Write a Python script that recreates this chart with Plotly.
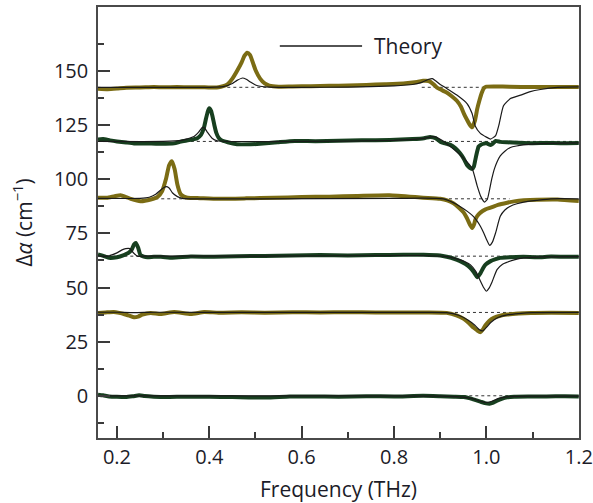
import plotly.graph_objects as go

# ---------------- data ----------------
# Trace A: bottom, dark green, baseline 0
XA = [0.159, 0.17, 0.183, 0.20, 0.219, 0.235, 0.248, 0.26, 0.28, 0.306, 0.35, 0.40, 0.45, 0.523, 0.574,
      0.62, 0.68, 0.74, 0.80, 0.863, 0.90, 0.93, 0.951, 0.965, 0.977, 0.987, 0.997, 1.007, 1.015, 1.023,
      1.033, 1.045, 1.06, 1.09, 1.13, 1.17, 1.20]
YA = [0.5, 0.2, -0.3, -0.5, -0.6, -0.2, 0.2, -0.1, -0.4, -0.6, -0.4, -0.5, -0.6, -0.8, -0.3,
      -0.3, -0.4, -0.2, -0.3, 0.0, -0.2, -0.4, -0.6, -1.2, -2.0, -2.7, -3.4, -3.7, -3.2, -2.3,
      -1.4, -0.7, -0.4, -0.3, -0.3, -0.2, -0.3]
XTA = [0.159, 0.5, 0.9, 0.95, 0.97, 0.985, 1.0, 1.012, 1.025, 1.04, 1.06, 1.1, 1.2]
YTA = [0.0, 0.0, -0.2, -0.6, -1.3, -2.4, -3.1, -2.5, -1.3, -0.6, -0.3, -0.2, -0.2]

# Trace B: olive, baseline 38.5
XB = [0.159, 0.175, 0.193, 0.205, 0.215, 0.227, 0.237, 0.246, 0.255, 0.273, 0.295, 0.324, 0.36, 0.389,
      0.42, 0.47, 0.52, 0.58, 0.64, 0.70, 0.76, 0.82, 0.87, 0.914, 0.935, 0.951, 0.962, 0.972, 0.98,
      0.987, 0.993, 0.998, 1.006, 1.016, 1.03, 1.045, 1.07, 1.096, 1.14, 1.2]
YB = [38.3, 38.5, 38.7, 38.3, 37.8, 37.0, 36.3, 36.6, 37.5, 38.3, 37.8, 38.7, 37.8, 38.7,
      38.4, 38.6, 38.4, 38.6, 38.5, 38.6, 38.5, 38.5, 38.5, 38.3, 37.2, 35.5, 33.6, 31.5, 30.2,
      29.4, 30.8, 32.6, 34.6, 36.0, 37.0, 37.5, 38.0, 38.3, 38.4, 38.3]
XTB = [0.159, 0.2, 0.237, 0.28, 0.5, 0.85, 0.914, 0.94, 0.96, 0.975, 0.985, 0.992, 1.0, 1.01, 1.025,
       1.045, 1.07, 1.1, 1.2]
YTB = [38.6, 38.6, 38.4, 38.6, 38.5, 38.5, 38.4, 37.2, 35.0, 32.6, 30.5, 30.0, 31.6, 34.0, 36.2,
       37.4, 38.0, 38.4, 38.5]

# Trace C: dark green, baseline 64.5
XC = [0.159, 0.165, 0.175, 0.183, 0.20, 0.215, 0.225, 0.232, 0.237, 0.241, 0.246, 0.251, 0.258, 0.266,
      0.28, 0.295, 0.32, 0.36, 0.41, 0.46, 0.52, 0.58, 0.64, 0.70, 0.76, 0.82, 0.864, 0.90, 0.914,
      0.93, 0.943, 0.955, 0.965, 0.973, 0.98, 0.987, 0.993, 0.998, 1.009, 1.02, 1.03, 1.05, 1.08,
      1.11, 1.14, 1.17, 1.2]
YC = [65.3, 65.0, 64.3, 63.7, 64.0, 65.0, 66.0, 67.5, 69.9, 70.6, 68.4, 65.0, 64.3, 64.0,
      64.2, 64.2, 63.8, 64.3, 64.2, 64.5, 64.6, 64.8, 65.0, 64.8, 65.0, 65.1, 65.2, 64.8, 64.2,
      63.3, 62.2, 60.8, 59.1, 57.0, 54.8, 56.6, 59.0, 60.6, 62.2, 63.1, 63.7, 64.0, 64.2,
      64.0, 64.3, 64.2, 64.2]
XTC = [0.159, 0.18, 0.2, 0.21, 0.219, 0.228, 0.235, 0.244, 0.26, 0.5, 0.85, 0.914, 0.94, 0.955, 0.965,
       0.977, 0.987, 0.994, 1.0, 1.005, 1.012, 1.023, 1.035, 1.045, 1.06, 1.081, 1.12, 1.2]
YTC = [64.5, 64.5, 66.0, 67.3, 68.0, 68.0, 66.2, 64.5, 64.5, 64.5, 64.8, 64.3, 63.0, 61.8, 60.6,
       57.5, 53.0, 50.0, 48.3, 49.5, 52.5, 58.3, 60.8, 61.7, 62.8, 63.7, 64.2, 64.3]

# Trace D: olive, baseline 91
XD = [0.159, 0.178, 0.195, 0.208, 0.22, 0.23, 0.251, 0.273, 0.288, 0.298, 0.306, 0.313, 0.319, 0.325,
      0.331, 0.338, 0.345, 0.353, 0.38, 0.42, 0.48, 0.54, 0.60, 0.66, 0.72, 0.79, 0.863, 0.90, 0.915,
      0.929, 0.94, 0.951, 0.958, 0.965, 0.969, 0.973, 0.976, 0.98, 0.987, 0.997, 1.009, 1.025, 1.045,
      1.06, 1.081, 1.11, 1.154, 1.2]
YD = [91.5, 91.5, 92.2, 92.6, 91.8, 91.0, 89.9, 90.7, 91.9, 94.6, 100.0, 106.5, 108.4, 104.6,
      97.5, 93.1, 92.0, 91.5, 91.3, 91.0, 91.2, 91.5, 91.8, 92.0, 92.3, 92.6, 91.5, 91.0, 90.3,
      88.9, 87.0, 84.6, 82.0, 78.8, 77.5, 79.0, 81.3, 83.0, 84.6, 86.0, 86.9, 88.2, 89.2,
      89.8, 90.3, 90.6, 90.7, 90.0]
XTD = [0.159, 0.25, 0.27, 0.284, 0.296, 0.306, 0.313, 0.32, 0.331, 0.342, 0.36, 0.5, 0.8, 0.907, 0.936,
       0.958, 0.97, 0.98, 0.987, 0.994, 1.0, 1.007, 1.013, 1.02, 1.03, 1.04, 1.052, 1.066, 1.081, 1.11,
       1.139, 1.2]
YTD = [91.2, 91.2, 91.7, 93.1, 95.3, 96.6, 96.0, 93.8, 92.0, 91.2, 91.0, 91.0, 91.2, 91.0, 88.4,
       85.3, 83.2, 80.7, 78.3, 75.3, 72.3, 69.5, 71.0, 75.3, 82.9, 85.8, 87.6, 88.7, 89.5, 90.3,
       91.0, 91.0]

# Trace E: dark green, baseline 117.5
XE = [0.159, 0.17, 0.185, 0.20, 0.22, 0.237, 0.262, 0.29, 0.324, 0.338, 0.36, 0.374, 0.382, 0.388,
      0.393, 0.397, 0.40, 0.404, 0.407, 0.411, 0.415, 0.42, 0.425, 0.44, 0.46, 0.49, 0.51, 0.548,
      0.585, 0.63, 0.68, 0.73, 0.791, 0.84, 0.865, 0.878, 0.89, 0.90, 0.911, 0.922, 0.933, 0.943,
      0.951, 0.958, 0.964, 0.969, 0.973, 0.976, 0.98, 0.983, 0.987, 0.99, 0.995, 1.0, 1.005, 1.009,
      1.014, 1.02, 1.03, 1.045, 1.07, 1.1, 1.13, 1.16, 1.2]
YE = [118.4, 118.6, 118.0, 117.5, 117.0, 116.6, 116.6, 116.4, 116.6, 117.4, 118.2, 119.0, 120.5, 123.5,
      128.2, 131.5, 132.8, 131.5, 129.0, 125.0, 121.6, 119.3, 118.2, 117.1, 116.2, 116.2, 116.4, 117.1,
      117.7, 117.6, 117.8, 118.0, 118.2, 118.6, 119.0, 119.6, 119.0, 117.4, 116.6, 115.9, 114.3, 112.0,
      109.5, 106.6, 105.3, 104.8, 106.0, 109.0, 112.8, 115.1, 115.8, 116.2, 116.5, 116.7, 116.2, 115.9,
      116.5, 117.7, 117.3, 117.1, 116.9, 116.7, 116.8, 116.7, 116.8]
XTE = [0.159, 0.3, 0.34, 0.352, 0.367, 0.377, 0.385, 0.39, 0.396, 0.406, 0.417, 0.44, 0.6, 0.8, 0.86,
       0.886, 0.90, 0.922, 0.951, 0.969, 0.98, 0.988, 0.996, 1.002, 1.007, 1.012, 1.017, 1.023, 1.03,
       1.04, 1.052, 1.065, 1.08, 1.117, 1.2]
YTE = [117.5, 117.5, 118.0, 118.7, 119.8, 121.8, 124.0, 123.6, 121.7, 119.0, 117.8, 117.5, 117.5, 118.0,
       118.8, 119.7, 118.5, 115.1, 109.7, 105.1, 97.0, 92.0, 89.5, 90.8, 95.4, 100.5, 104.6, 108.0,
       110.8, 113.0, 114.7, 115.4, 115.9, 116.5, 116.8]

# Trace F: top, olive, baseline 142.5
XF = [0.159, 0.18, 0.2, 0.22, 0.25, 0.28, 0.3, 0.33, 0.36, 0.39, 0.41, 0.42, 0.43, 0.44, 0.45, 0.46,
      0.47, 0.476, 0.482, 0.488, 0.495, 0.50, 0.51, 0.52, 0.53, 0.55, 0.58, 0.62, 0.66, 0.70, 0.74,
      0.78, 0.82, 0.85, 0.863, 0.875, 0.885, 0.893, 0.90, 0.914, 0.925, 0.936, 0.945, 0.951, 0.958,
      0.964, 0.969, 0.975, 0.98, 0.985, 0.99, 0.995, 1.0, 1.02, 1.05, 1.1, 1.15, 1.2]
YF = [141.8, 141.6, 141.9, 142.3, 142.4, 142.6, 142.5, 142.6, 142.5, 142.5, 142.4, 142.5, 143.0, 144.0,
      146.5, 150.0, 154.0, 157.0, 158.5, 157.5, 153.5, 150.5, 146.5, 144.3, 143.3, 142.8, 142.9,
      143.0, 143.2, 143.3, 143.6, 143.9, 144.3, 145.0, 145.5, 145.4, 144.0, 142.4, 141.6, 140.1,
      138.4, 136.3, 133.5, 130.5, 127.5, 125.2, 124.0, 127.0, 132.4, 136.5, 140.0, 142.2, 142.8,
      142.9, 142.8, 142.6, 142.6, 142.6]
XTF = [0.159, 0.3, 0.40, 0.43, 0.45, 0.46, 0.472, 0.48, 0.49, 0.50, 0.51, 0.53, 0.6, 0.7, 0.8, 0.84,
       0.86, 0.875, 0.883, 0.89, 0.90, 0.914, 0.936, 0.958, 0.969, 0.976, 0.987, 1.0, 1.009, 1.02,
       1.027, 1.037, 1.052, 1.074, 1.095, 1.117, 1.154, 1.2]
YTF = [142.5, 142.5, 142.5, 142.8, 144.3, 145.7, 146.8, 146.2, 144.8, 143.6, 143.0, 142.6, 142.5,
       142.6, 143.2, 143.8, 144.8, 146.2, 146.5, 145.5, 143.8, 142.0, 138.9, 135.0, 130.4, 124.5,
       121.2, 119.5, 118.6, 120.2, 125.0, 134.0, 137.3, 138.9, 140.5, 141.5, 142.5, 142.7]

EXP_X = [XA, XB, XC, XD, XE, XF]
EXP_Y = [YA, YB, YC, YD, YE, YF]
TH_X = [XTA, XTB, XTC, XTD, XTE, XTF]
TH_Y = [YTA, YTB, YTC, YTD, YTE, YTF]
EXP_COLORS = ["#173f1f", "#7b6c14", "#173f1f", "#7b6c14", "#173f1f", "#7b6c14"]

# Dotted reference baselines (level, list of frequency spans)
BASE_LEVELS = [0, 38.5, 64.5, 91, 117.5, 142.5]
BASE_SPANS = [[(0.95, 1.05)],
              [(0.88, 1.10)],
              [(0.19, 0.26), (0.88, 1.20)],
              [(0.27, 0.35), (0.88, 1.05)],
              [(0.36, 0.44), (0.88, 1.20)],
              [(0.40, 0.53), (0.86, 1.02)]]

X_TICKS = [0.2, 0.4, 0.6, 0.8, 1.0, 1.2]
X_TICKTEXT = ["0.2", "0.4", "0.6", "0.8", "1.0", "1.2"]
X_MINOR = [0.3, 0.5, 0.7, 0.9, 1.1]
Y_TICKS = [0, 25, 50, 75, 100, 125, 150]
Y_MINOR = [-12.5, 12.5, 37.5, 62.5, 87.5, 112.5, 137.5, 162.5]

# ---------------- figure ----------------
fig = go.Figure()

for lvl, spans in zip(BASE_LEVELS, BASE_SPANS):
    for a, b in spans:
        fig.add_trace(go.Scatter(x=[a, b], y=[lvl, lvl], mode="lines",
                                 line=dict(color="#333333", width=1, dash="dot"),
                                 hoverinfo="skip", showlegend=False))

for xs, ys, c in zip(EXP_X, EXP_Y, EXP_COLORS):
    fig.add_trace(go.Scatter(x=xs, y=ys, mode="lines",
                             line=dict(color=c, width=4, shape="spline", smoothing=0.5),
                             showlegend=False))

for xs, ys in zip(TH_X, TH_Y):
    fig.add_trace(go.Scatter(x=xs, y=ys, mode="lines",
                             line=dict(color="#1a1a1a", width=1.2, shape="spline", smoothing=0.5),
                             showlegend=False))

axis_common = dict(showline=True, linecolor="#4a4a4a", linewidth=1.5, mirror=True,
                   showgrid=False, zeroline=False, ticks="inside", ticklen=12,
                   tickwidth=1.5, tickcolor="#3a3a3a", automargin=False,
                   tickfont=dict(size=20))

fig.update_xaxes(range=[0.159, 1.2005], tickmode="array", tickvals=X_TICKS, ticktext=X_TICKTEXT,
                 minor=dict(tickmode="array", tickvals=X_MINOR, ticks="inside", ticklen=6,
                            tickwidth=1.5, tickcolor="#3a3a3a"),
                 title=dict(text="Frequency (THz)", font=dict(size=21), standoff=14),
                 **axis_common)
fig.update_yaxes(range=[-19.5, 179.6], tickmode="array", tickvals=Y_TICKS,
                 minor=dict(tickmode="array", tickvals=Y_MINOR, ticks="inside", ticklen=6,
                            tickwidth=1.5, tickcolor="#3a3a3a"),
                 title=dict(text="Δ<i>α</i> (cm<sup>−1</sup>)", font=dict(size=21), standoff=16),
                 ticklabelstandoff=4,
                 **axis_common)

# Legend key ("Theory")
fig.add_shape(type="line", xref="paper", yref="paper", x0=0.378, x1=0.549, y0=0.9095, y1=0.9095,
              line=dict(color="#1a1a1a", width=1.5))
fig.add_annotation(xref="paper", yref="paper", x=0.569, y=0.9095, text="Theory", showarrow=False,
                   xanchor="left", yanchor="middle", font=dict(size=21))

fig.update_layout(width=593, height=503, margin=dict(l=98, r=14, t=7, b=65),
                  paper_bgcolor="white", plot_bgcolor="white", showlegend=False,
                  font=dict(family="Open Sans", color="#1c1c28"))

fig.write_html("out.html")
